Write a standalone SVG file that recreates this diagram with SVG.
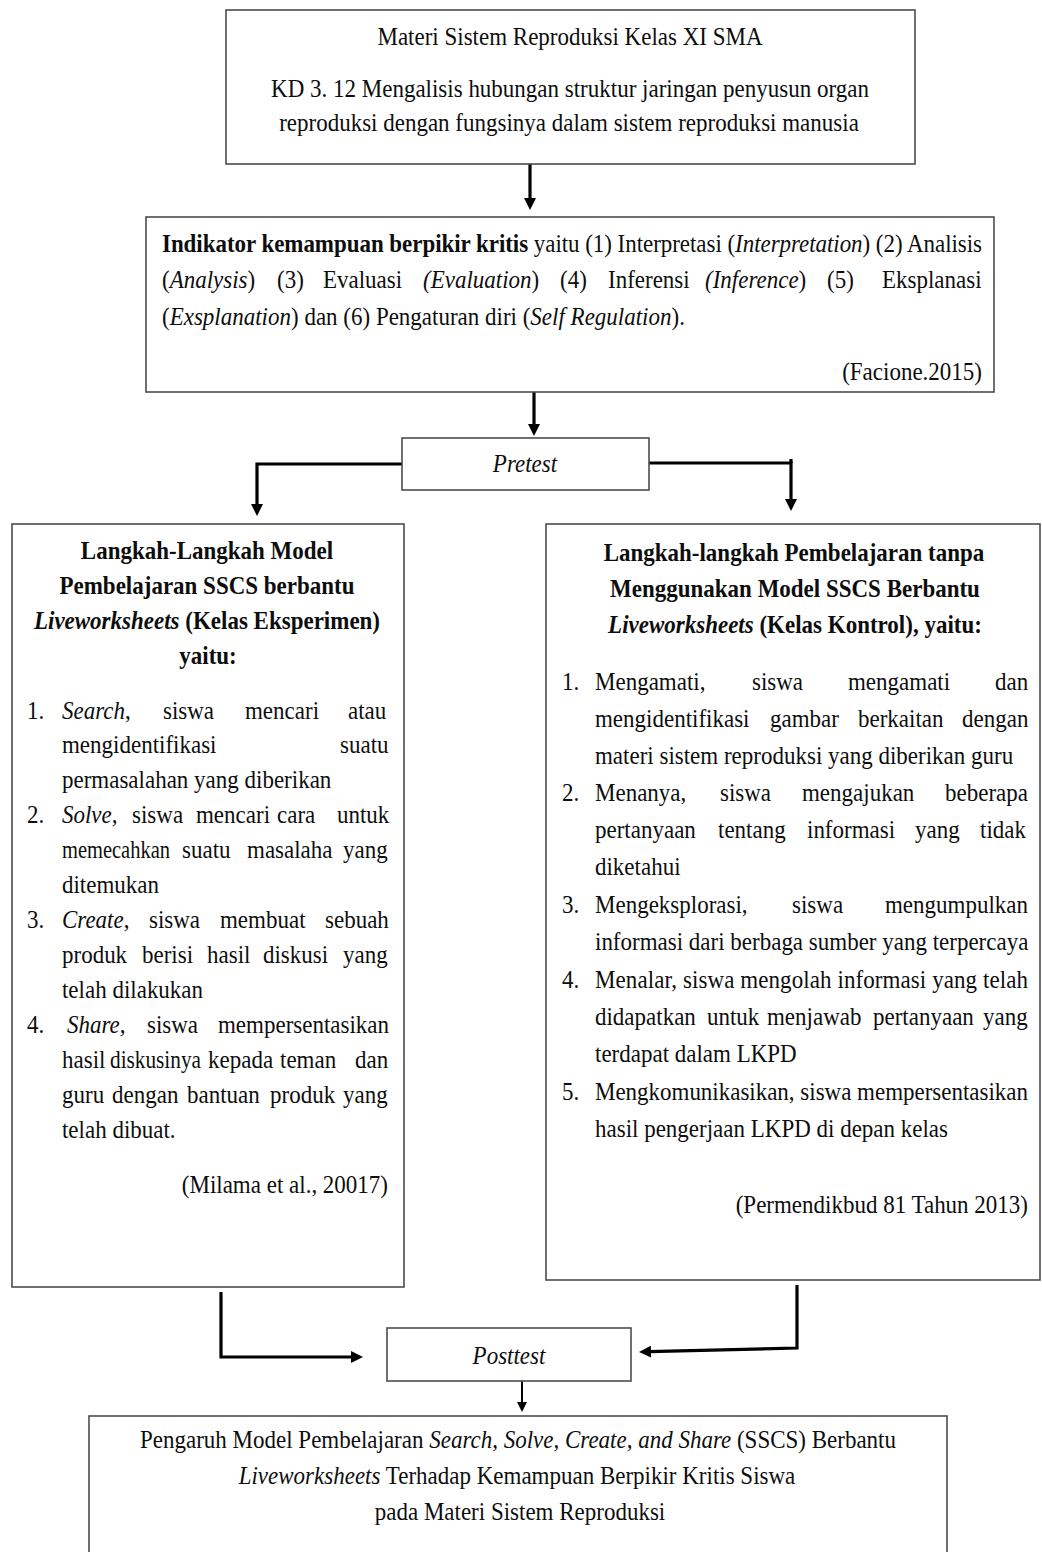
<svg xmlns="http://www.w3.org/2000/svg" width="1042" height="1552" viewBox="0 0 1042 1552">
<defs>
<style>
.box{fill:#fff;stroke:#4d4d4d;stroke-width:1.6}
.t{font-family:"Liberation Serif","Times New Roman",serif;font-size:23px;fill:#0d0d0d}
.b{font-weight:bold}
.i{font-style:italic}
.m{text-anchor:middle}
.e{text-anchor:end}
.con{fill:none;stroke:#000;stroke-width:3.2;stroke-linejoin:miter}
.thin{fill:none;stroke:#000;stroke-width:2}
</style>
<marker id="ah" viewBox="0 0 12 12" markerWidth="12" markerHeight="12" refX="2" refY="6" orient="auto" markerUnits="userSpaceOnUse">
<path d="M0,0 L12,6 L0,12 z" fill="#000"/>
</marker>
<marker id="ahs" viewBox="0 0 10 10" markerWidth="10" markerHeight="10" refX="2" refY="5" orient="auto" markerUnits="userSpaceOnUse">
<path d="M0,0 L10,5 L0,10 z" fill="#000"/>
</marker>
</defs>
<rect width="1042" height="1552" fill="#fff"/>

<g id="connectors">
<path class="con" d="M530,164 V200" marker-end="url(#ah)"/>
<path class="con" d="M534,392 V426" marker-end="url(#ah)"/>
<path class="con" d="M402,464 H257 V506" marker-end="url(#ah)"/>
<path class="con" d="M649,463 H791 V501" marker-end="url(#ah)"/>
<path class="con" d="M791,459 V463"/>
<path class="con" d="M221,1292 V1357 H353" marker-end="url(#ah)"/>
<path class="con" d="M797,1285 V1348 L649,1351.7" marker-end="url(#ah)"/>
<path class="thin" d="M522,1381 V1404" marker-end="url(#ahs)"/>
</g>

<g id="n-top">
<rect class="box" x="226" y="10" width="689" height="154"/>
<g transform="scale(1,1.12)">
<text class="t m" x="570" y="40.18">Materi Sistem Reproduksi Kelas XI SMA</text>
<text class="t m" x="570" y="86.61">KD 3. 12 Mengalisis hubungan struktur jaringan penyusun organ</text>
<text class="t m" x="569" y="116.96">reproduksi dengan fungsinya dalam sistem reproduksi manusia</text>
</g>
</g>

<g id="n-indikator">
<rect class="box" x="146" y="217" width="848" height="175"/>
<g transform="scale(1,1.12)">
<text class="t" x="162" y="225" textLength="820" lengthAdjust="spacing"><tspan class="b">Indikator kemampuan berpikir kritis</tspan> yaitu (1) Interpretasi (<tspan class="i">Interpretation</tspan>) (2) Analisis</text>
<text class="t" y="257.14"><tspan x="162">(<tspan class="i">Analysis</tspan>)</tspan><tspan x="277">(3)</tspan><tspan x="323">Evaluasi</tspan><tspan x="423" class="i">(Evaluation</tspan>)<tspan x="560">(4)</tspan><tspan x="608">Inferensi</tspan><tspan x="705" class="i">(Inference</tspan>)<tspan x="827">(5)</tspan><tspan x="882">Eksplanasi</tspan></text>
<text class="t" x="162" y="290.18">(<tspan class="i">Exsplanation</tspan>) dan (6) Pengaturan diri (<tspan class="i">Self Regulation</tspan>).</text>
<text class="t e" x="982" y="339.29">(Facione.2015)</text>
</g>
</g>

<g id="n-pretest">
<rect class="box" x="402" y="438" width="247" height="52"/>
<text class="t i m" x="525" y="421.43" transform="scale(1,1.12)">Pretest</text>
</g>

<g id="n-eksperimen">
<rect class="box" x="12" y="524" width="392" height="763"/>
<g transform="scale(1,1.12)">
<text class="t b m" x="207" y="499.11">Langkah-Langkah Model</text>
<text class="t b m" x="207" y="530.36">Pembelajaran SSCS berbantu</text>
<text class="t b m" x="207" y="561.61"><tspan class="i">Liveworksheets</tspan> (Kelas Eksperimen)</text>
<text class="t b m" x="208" y="592.86">yaitu:</text>
<text class="t" y="641.96"><tspan x="27">1.</tspan><tspan x="62" class="i">Search</tspan>,<tspan x="163">siswa</tspan><tspan x="245">mencari</tspan><tspan x="348">atau</tspan></text>
<text class="t" y="672.32"><tspan x="62">mengidentifikasi</tspan><tspan x="340">suatu</tspan></text>
<text class="t" x="62" y="703.57">permasalahan yang diberikan</text>
<text class="t" y="734.82"><tspan x="27">2.</tspan><tspan x="62" class="i">Solve,</tspan><tspan x="132">siswa</tspan><tspan x="196">mencari</tspan><tspan x="277">cara</tspan><tspan x="337">untuk</tspan></text>
<text class="t" x="62" y="766.07" textLength="108" lengthAdjust="spacingAndGlyphs">memecahkan</text>
<text class="t" y="766.07"><tspan x="182">suatu</tspan><tspan x="247">masalaha</tspan><tspan x="343">yang</tspan></text>
<text class="t" x="62" y="797.32">ditemukan</text>
<text class="t" y="828.57"><tspan x="27">3.</tspan><tspan x="62" class="i">Create</tspan>,<tspan x="149">siswa</tspan><tspan x="220">membuat</tspan><tspan x="325">sebuah</tspan></text>
<text class="t" y="859.82"><tspan x="62">produk</tspan><tspan x="142">berisi</tspan><tspan x="207">hasil</tspan><tspan x="263">diskusi</tspan><tspan x="343">yang</tspan></text>
<text class="t" x="62" y="891.07">telah dilakukan</text>
<text class="t" y="922.32"><tspan x="27">4.</tspan><tspan x="67" class="i">Share,</tspan><tspan x="147">siswa</tspan><tspan x="218">mempersentasikan</tspan></text>
<text class="t" y="953.57"><tspan x="62">hasil</tspan></text>
<text class="t" x="110" y="953.57" textLength="91" lengthAdjust="spacingAndGlyphs">diskusinya</text>
<text class="t" y="953.57"><tspan x="208">kepada</tspan><tspan x="280">teman</tspan><tspan x="355">dan</tspan></text>
<text class="t" y="984.82"><tspan x="62">guru</tspan><tspan x="112">dengan</tspan><tspan x="187">bantuan</tspan><tspan x="270">produk</tspan><tspan x="343">yang</tspan></text>
<text class="t" x="62" y="1016.07">telah dibuat.</text>
<text class="t e" x="388" y="1065.18">(Milama et al., 20017)</text>
</g>
</g>

<g id="n-kontrol">
<rect class="box" x="546" y="524" width="494" height="756"/>
<g transform="scale(1,1.12)">
<text class="t b m" x="794" y="500.89">Langkah-langkah Pembelajaran tanpa</text>
<text class="t b m" x="795" y="533.04">Menggunakan Model SSCS Berbantu</text>
<text class="t b m" x="795" y="565.18"><tspan class="i">Liveworksheets</tspan> (Kelas Kontrol), yaitu:</text>
<text class="t" y="616.07"><tspan x="562">1.</tspan><tspan x="595">Mengamati,</tspan><tspan x="752">siswa</tspan><tspan x="848">mengamati</tspan><tspan x="995">dan</tspan></text>
<text class="t" y="649.11"><tspan x="595">mengidentifikasi</tspan><tspan x="770">gambar</tspan><tspan x="858">berkaitan</tspan><tspan x="962">dengan</tspan></text>
<text class="t" x="595" y="682.14">materi sistem reproduksi yang diberikan guru</text>
<text class="t" y="715.18"><tspan x="562">2.</tspan><tspan x="595">Menanya,</tspan><tspan x="720">siswa</tspan><tspan x="802">mengajukan</tspan><tspan x="945">beberapa</tspan></text>
<text class="t" y="748.21"><tspan x="595">pertanyaan</tspan><tspan x="718">tentang</tspan><tspan x="807">informasi</tspan><tspan x="915">yang</tspan><tspan x="980">tidak</tspan></text>
<text class="t" x="595" y="781.25">diketahui</text>
<text class="t" y="815.18"><tspan x="562">3.</tspan><tspan x="595">Mengeksplorasi,</tspan><tspan x="792">siswa</tspan><tspan x="885">mengumpulkan</tspan></text>
<text class="t" x="595" y="848.21">informasi dari berbaga sumber yang terpercaya</text>
<text class="t" x="562" y="882.14">4.</text>
<text class="t" x="595" y="882.14" textLength="433" lengthAdjust="spacing">Menalar, siswa mengolah informasi yang telah</text>
<text class="t" y="915.18"><tspan x="595">didapatkan</tspan><tspan x="707">untuk</tspan><tspan x="767">menjawab</tspan><tspan x="873">pertanyaan</tspan><tspan x="983">yang</tspan></text>
<text class="t" x="595" y="948.21">terdapat dalam LKPD</text>
<text class="t" x="562" y="982.14">5.</text>
<text class="t" x="595" y="982.14" textLength="433" lengthAdjust="spacing">Mengkomunikasikan, siswa mempersentasikan</text>
<text class="t" x="595" y="1015.18">hasil pengerjaan LKPD di depan kelas</text>
<text class="t e" x="1028" y="1083.04">(Permendikbud 81 Tahun 2013)</text>
</g>
</g>

<g id="n-posttest">
<rect class="box" x="387" y="1328" width="244" height="53"/>
<text class="t i m" x="509" y="1217.86" transform="scale(1,1.12)">Posttest</text>
</g>

<g id="n-pengaruh">
<rect class="box" x="89" y="1416" width="858" height="150"/>
<g transform="scale(1,1.12)">
<text class="t m" x="518" y="1292.86">Pengaruh Model Pembelajaran <tspan class="i">Search, Solve, Create, and Share</tspan> (SSCS) Berbantu</text>
<text class="t m" x="517" y="1325">
<tspan class="i">Liveworksheets</tspan> Terhadap Kemampuan Berpikir Kritis Siswa</text>
<text class="t m" x="520" y="1357.14">pada Materi Sistem Reproduksi</text>
</g>
</g>
</svg>
